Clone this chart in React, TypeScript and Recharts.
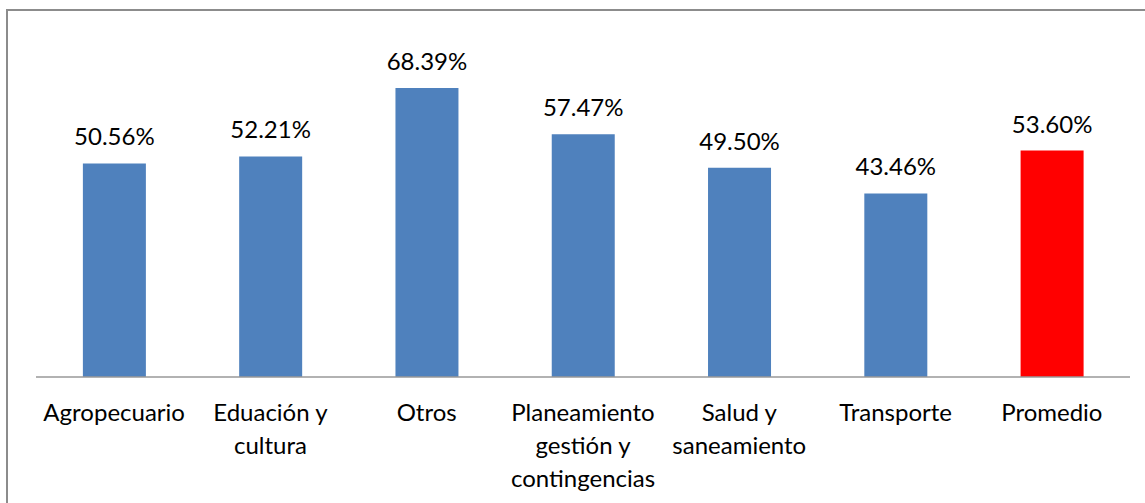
import React from "react";
import { BarChart, Bar, XAxis, YAxis, LabelList, Cell } from "recharts";

const categories: string[] = [
  "Agropecuario",
  "Eduación y\ncultura",
  "Otros",
  "Planeamiento\ngestión y\ncontingencias",
  "Salud y\nsaneamiento",
  "Transporte",
  "Promedio",
];
const values: number[] = [50.56, 52.21, 68.39, 57.47, 49.5, 43.46, 53.6];
const yDomain: number[] = [0, 80];

const data = categories.map((c, i) => ({ name: c, value: values[i] }));

const FONT = "Lato, 'Open Sans', sans-serif";

const Tick = (props: any) => {
  const { x, payload } = props;
  const lines = String(payload.value).split("\n");
  return (
    <text
      x={x}
      y={421}
      textAnchor="middle"
      fill="#000"
      fontSize={24}
      fontFamily={FONT}
    >
      {lines.map((l, i) => (
        <tspan key={i} x={x} dy={i === 0 ? 0 : 33}>
          {l}
        </tspan>
      ))}
    </text>
  );
};

export default function App() {
  return (
    <div
      style={{
        position: "absolute",
        left: 0,
        top: 0,
        width: 1145,
        height: 503,
        overflow: "hidden",
        background: "#fff",
      }}
    >
      <div
        style={{
          position: "absolute",
          left: 6,
          top: 9,
          width: 1160,
          height: 520,
          border: "2px solid #8c8c8c",
          boxSizing: "border-box",
        }}
      />
      <div style={{ position: "absolute", left: 0, top: 0 }}>
        <BarChart
          width={1145}
          height={503}
          data={data}
          margin={{ top: 39, right: 15, left: 36, bottom: 95 }}
          barCategoryGap="30%"
        >
          <XAxis
            dataKey="name"
            height={31}
            interval={0}
            tickLine={false}
            axisLine={{ stroke: "#999", strokeWidth: 1.5 }}
            tick={<Tick />}
          />
          <YAxis hide domain={yDomain} />
          <Bar dataKey="value" isAnimationActive={false}>
            {data.map((d, i) => (
              <Cell key={i} fill={d.name === "Promedio" ? "#FF0000" : "#4F81BD"} />
            ))}
            <LabelList
              dataKey="value"
              position="top"
              offset={18}
              formatter={(v: any) => Number(v).toFixed(2) + "%"}
              style={{ fontSize: 24, fontFamily: FONT, fill: "#000" }}
            />
          </Bar>
        </BarChart>
      </div>
    </div>
  );
}
